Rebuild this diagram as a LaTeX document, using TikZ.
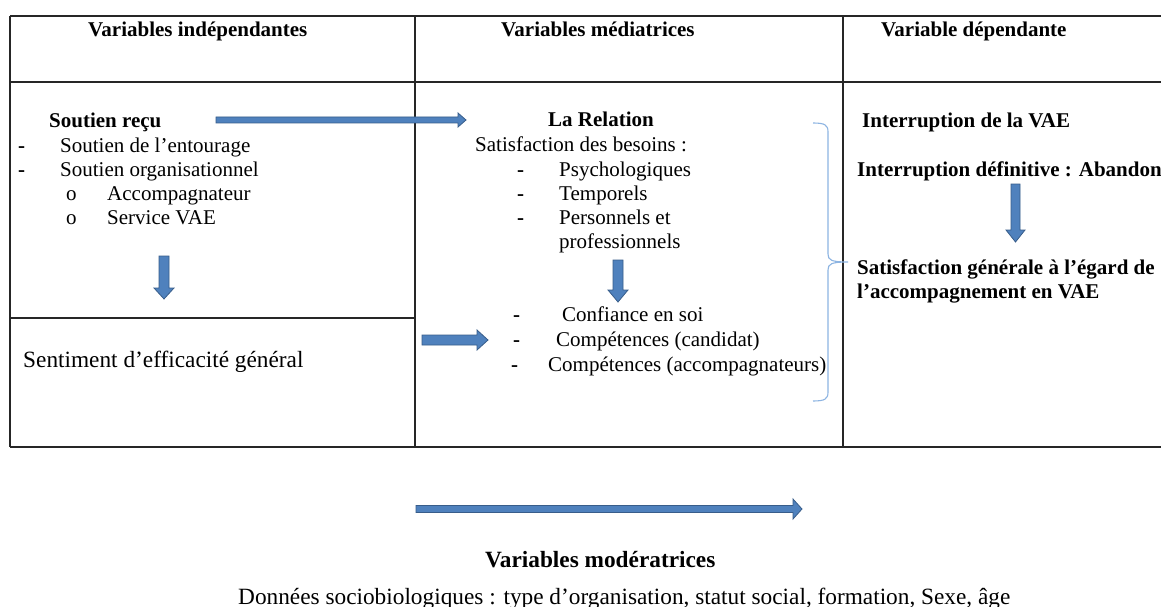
\documentclass[tikz,border=0pt]{standalone}
\usepackage{fontspec}
\setmainfont{Liberation Serif}
\usetikzlibrary{calc}
\definecolor{arrowfill}{HTML}{4F81BD}
\definecolor{arrowline}{HTML}{385D8A}
\definecolor{bracecol}{HTML}{8DB4E2}
\tikzset{
  txt/.style={inner sep=0pt, anchor=base west, font=\fontsize{21}{24}\selectfont},
  btxt/.style={txt, font=\fontsize{21}{24}\selectfont\bfseries},
  bigtxt/.style={txt, font=\fontsize{23.3}{27}\selectfont},
  bigbtxt/.style={txt, font=\fontsize{23.3}{27}\selectfont\bfseries},
  rule/.style={line width=1.1pt, draw=black!85},
  blockarrow/.style={fill=arrowfill, draw=arrowline, line width=0.8pt, line join=miter},
  bracestyle/.style={draw=bracecol, line width=1.1pt}
}
% block arrow: from, to, half shaft, half head, head length
\newcommand\BlockArr[5]{%
  \coordinate (hb) at ($(#2)!#5!(#1)$);
  \draw[blockarrow] ($(#1)!#3!90:(#2)$) -- ($(hb)!#3!90:(#2)$) -- ($(hb)!#4!90:(#2)$) -- (#2)
    -- ($(hb)!#4!-90:(#2)$) -- ($(hb)!#3!-90:(#2)$) -- ($(#1)!#3!-90:(#2)$) -- cycle;
}
\begin{document}
\begin{tikzpicture}[x=1pt, y=-1pt]
\useasboundingbox[fill=white] (0,0) rectangle (1161,607);
% table
\draw[rule] (10,16) -- (1161,16);
\draw[rule] (10,82) -- (1161,82);
\draw[rule] (10,447) -- (1161,447);
\draw[rule] (10,16) -- (10,447);
\draw[rule] (415,16) -- (415,447);
\draw[rule] (843,16) -- (843,447);
\draw[rule] (10,318) -- (415,318);
% headers
\node[btxt] (h1) at (88,37) {Variables indépendantes};
\node[btxt] (h2) at (501,37) {Variables médiatrices};
\node[btxt] (h3) at (881,37) {Variable dépendante};
% left column
\node[btxt] (soutien) at (49,128) {Soutien reçu};
\node[btxt] (d1) at (18,152) {-};
\node[txt] (s1) at (60,152) {Soutien de l’entourage};
\node[btxt] (d2) at (18,176) {-};
\node[txt] (s2) at (60,176) {Soutien organisationnel};
\node[txt] (o1) at (66,200) {o};
\node[txt] (s3) at (107,200) {Accompagnateur};
\node[txt] (o2) at (66,224) {o};
\node[txt] (s4) at (107,224) {Service VAE};
\node[bigtxt] (sent) at (23,367) {Sentiment d’efficacité général};
% middle column
\node[btxt] (rel) at (548,127) {La Relation};
\node[txt] (satb) at (475,151) {Satisfaction des besoins :};
\node[btxt] (m1) at (517,176) {-};
\node[txt] (p1) at (559,176) {Psychologiques};
\node[btxt] (m2) at (517,200) {-};
\node[txt] (p2) at (559,200) {Temporels};
\node[btxt] (m3) at (517,224) {-};
\node[txt] (p3) at (559,224) {Personnels et};
\node[txt] (p4) at (559,248) {professionnels};
\node[btxt] (m4) at (513,321) {-};
\node[txt] (c1) at (562,321) {Confiance en soi};
\node[btxt] (m5) at (513,346) {-};
\node[txt] (c2) at (556,346) {Compétences (candidat)};
\node[btxt] (m6) at (511,371) {-};
\node[txt] (c3) at (548,371) {Compétences (accompagnateurs)};
% right column
\node[btxt] (int) at (862,128) {Interruption de la VAE};
\node[btxt] (aband) at (857,176) {Interruption définitive : Abandon};
\node[btxt] (satg) at (857,274) {Satisfaction générale à l’égard de};
\node[btxt] (satg2) at (857,298) {l’accompagnement en VAE};
% bottom
\node[bigbtxt] (mod) at (485,567) {Variables modératrices};
\node[bigtxt] (donn) at (238,604) {Données sociobiologiques : type d’organisation, statut social, formation, Sexe, âge};
% arrows
\coordinate (a1s) at (216,120); \coordinate (a1e) at (466,120);
\BlockArr{a1s}{a1e}{3pt}{7pt}{8pt}
\coordinate (a2s) at (164,256); \coordinate (a2e) at (164,299);
\BlockArr{a2s}{a2e}{5pt}{10pt}{11pt}
\coordinate (a3s) at (618,260); \coordinate (a3e) at (618,302);
\BlockArr{a3s}{a3e}{5pt}{10pt}{12pt}
\coordinate (a4s) at (422,340); \coordinate (a4e) at (488,340);
\BlockArr{a4s}{a4e}{5pt}{10pt}{11pt}
\coordinate (a5s) at (1015.5,184); \coordinate (a5e) at (1015.5,242);
\BlockArr{a5s}{a5e}{4.5pt}{9.5pt}{12pt}
\coordinate (a6s) at (416,509); \coordinate (a6e) at (802,509);
\BlockArr{a6s}{a6e}{3.5pt}{10pt}{9pt}
% brace
\coordinate (bt) at (813,123); \coordinate (bm) at (848,262); \coordinate (bb) at (813,401);
\draw[bracestyle] (bt) .. controls (825,123) and (828,125) .. (828,132) -- (828,254)
  .. controls (828,260) and (831,262) .. (bm)
  .. controls (831,262) and (828,264) .. (828,270) -- (828,392)
  .. controls (828,399) and (825,401) .. (bb);
\end{tikzpicture}
\end{document}
